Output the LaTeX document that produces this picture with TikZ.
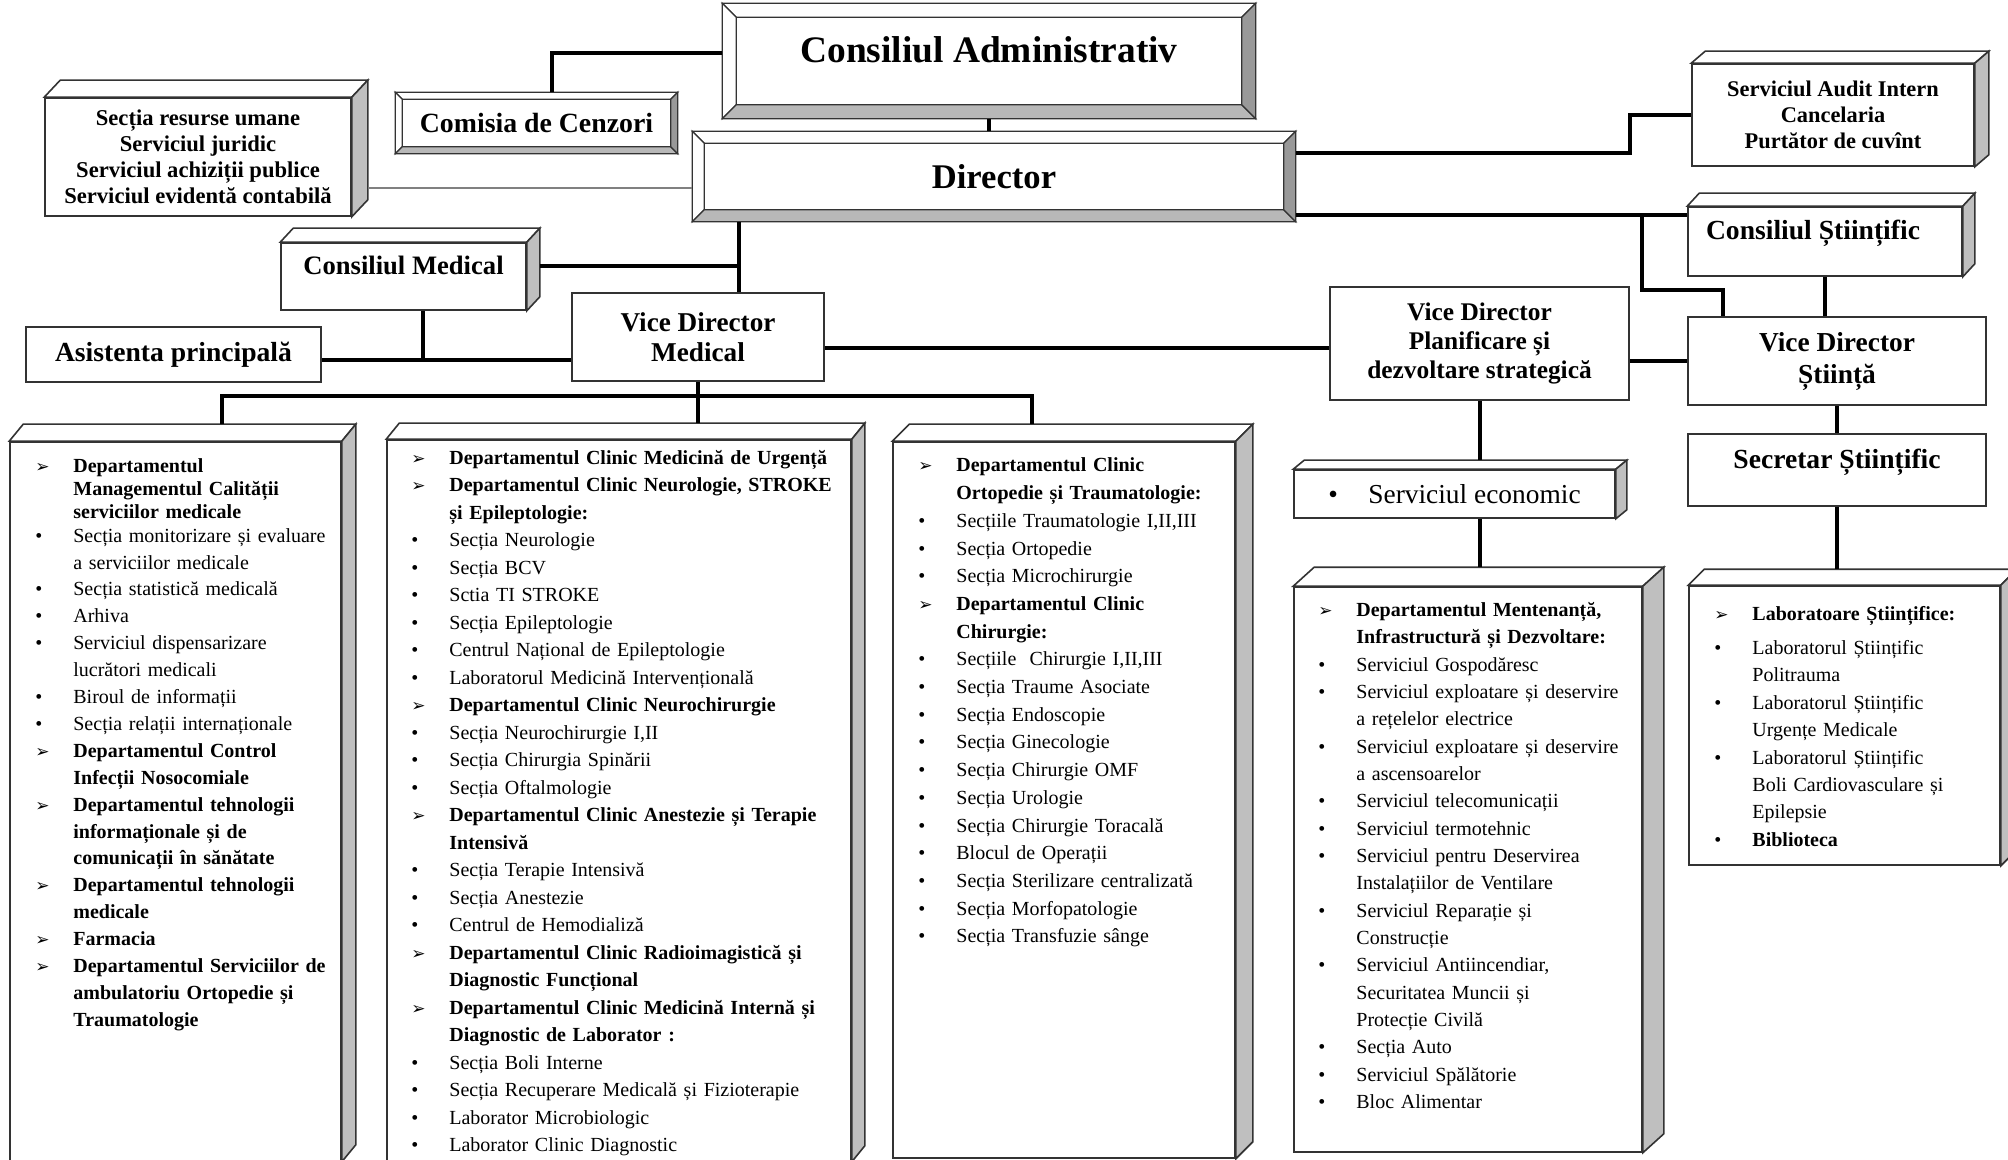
\documentclass[tikz,border=0pt]{standalone}
\usepackage{fontspec}
\setmainfont{Liberation Serif}
\newfontfamily\arrowfont{DejaVu Sans}
\usepackage{tikz}
\colorlet{colorLine}{black}
\colorlet{colorThin}{black!50}
\colorlet{colorFrame}{black!80}
\colorlet{colorBevelLow}{black!28}
\colorlet{colorBevelSide}{black!40}
\colorlet{colorCubeSide}{black!25}
\tikzset{
  box/.style={draw=colorFrame, line width=0.8pt, fill=white, inner sep=0pt, align=center, font=\bfseries},
  span/.style args={#1/#2/#3/#4}{at={({(#1+#3)/2},{(#2+#4)/2})}, minimum width={(#3-#1)*0.5pt}, minimum height={(#4-#2)*0.5pt}},
  bevlite/.style={draw=colorFrame, line width=0.6pt, fill=white},
  bevlow/.style={draw=colorFrame, line width=0.6pt, fill=colorBevelLow},
  bevside/.style={draw=colorFrame, line width=0.6pt, fill=colorBevelSide},
  topface/.style={draw=colorFrame, line width=0.8pt, fill=white},
  sideface/.style={draw=colorFrame, line width=0.8pt, fill=colorCubeSide},
  conn/.style={draw=colorLine, line width=2pt},
  lst/.style={anchor=base west, inner sep=0pt, text width=#1, align=left, font=\fontsize{10}{13.7}\selectfont},
  lst/.default=200pt,
  uptext/.style={text height=10pt, text depth=12pt}
}
% list marks
\newcommand\arw{\makebox[19pt][l]{\arrowfont\fontsize{8.5}{8.5}\selectfont ➢}}
\newcommand\blt{\makebox[19pt][l]{•}}
\newcommand\ind{\hspace*{19pt}}
% framed (bevel) and 3D (cube) box decorations, sizes in px
\newcommand\bevel[2]{%
  \draw[bevlite] (#1.north west) -- (#1.north east) -- ++(-#2,#2) -- ([shift={(#2,#2)}]#1.north west) -- cycle;
  \draw[bevlite] (#1.north west) -- ([shift={(#2,#2)}]#1.north west) -- ([shift={(#2,-#2)}]#1.south west) -- (#1.south west) -- cycle;
  \draw[bevlow] (#1.south west) -- (#1.south east) -- ++(-#2,-#2) -- ([shift={(#2,-#2)}]#1.south west) -- cycle;
  \draw[bevside] (#1.north east) -- (#1.south east) -- ++(-#2,-#2) -- ([shift={(-#2,#2)}]#1.north east) -- cycle;
}
\newcommand\cube[3]{%
  \draw[topface] (#1.north west) -- ++(#2,-#3) -- ([shift={(#2,-#3)}]#1.north east) -- (#1.north east) -- cycle;
  \draw[sideface] (#1.north east) -- ++(#2,-#3) -- ([shift={(#2,-#3)}]#1.south east) -- (#1.south east) -- cycle;
  \coordinate (#1-top) at ([shift={(#2,-#3)}]#1.north);
}

\begin{document}
\begin{tikzpicture}[x=0.5pt, y=-0.5pt]
\useasboundingbox (0,0) rectangle (2008,1160);

% top level
\node[box, span=723/4/1255/118, font=\bfseries\fontsize{18.7}{20}\selectfont, text height=14pt, text depth=12.8pt] (ca) {Consiliul Administrativ};
\bevel{ca}{14}
\node[box, span=693/132/1295/221, font=\bfseries\fontsize{17.3}{20}\selectfont] (dir) {Director};
\bevel{dir}{12}
\node[box, span=396/93/677/153, font=\bfseries\fontsize{13.9}{16}\selectfont] (com) {Comisia de Cenzori};
\bevel{com}{7}
\node[box, span=45/98/351/216, font=\bfseries\fontsize{11.3}{13}\selectfont] (res) {Secția resurse umane\\Serviciul juridic\\Serviciul achiziții publice\\Serviciul evidentă contabilă};
\cube{res}{16}{17}
\node[box, span=1692/64/1974/166, font=\bfseries\fontsize{11.2}{13}\selectfont] (aud) {Serviciul Audit Intern\\Cancelaria\\Purtător de cuvînt};
\cube{aud}{14}{12}
\node[box, span=1688/207/1962/276, font=\bfseries\fontsize{13.8}{16}\selectfont, uptext] (cs) {Consiliul Științific\hspace*{12pt}};
\cube{cs}{12}{13}
\node[box, span=281/243/526/310, font=\bfseries\fontsize{13.3}{16}\selectfont, uptext] (cm) {Consiliul Medical};
\cube{cm}{13}{14}

% vice directors
\node[box, span=26/327/321/382, font=\bfseries\fontsize{13.8}{16}\selectfont] (asis) {Asistenta principală};
\node[box, span=572/293/824/381, font=\bfseries\fontsize{13.6}{15}\selectfont] (vdm) {Vice Director\\Medical};
\node[box, span=1330/287/1629/400, font=\bfseries\fontsize{12.7}{14.3}\selectfont] (vdp) {Vice Director\\Planificare și\\dezvoltare strategică};
\node[box, span=1688/317/1986/405, font=\bfseries\fontsize{13.7}{16}\selectfont] (vds) {Vice Director\\Știință};
\node[box, span=1688/434/1986/506, font=\bfseries\fontsize{13.8}{16}\selectfont, uptext] (sec) {Secretar Științific};
\node[box, span=1294/470/1615/518, font=\fontsize{13.7}{16}\selectfont] (se) {\makebox[20pt][l]{•}Serviciul economic};
\cube{se}{11}{9}

% departments
\node[box, span=10/442/341/1161] (b1) {};
\cube{b1}{14}{17}
\node[box, span=387/440/851/1161] (b2) {};
\cube{b2}{13}{16}
\node[box, span=893/442/1235/1158] (b3) {};
\cube{b3}{17}{17}
\node[box, span=1294/587/1642/1152] (dm) {};
\cube{dm}{21}{19}
\node[box, span=1689/586/2000/865] (lab) {};
\cube{lab}{16}{16}

\node[lst=170pt, font=\fontsize{10}{13.45}\selectfont] (t1) at (35,472.5) {%
\arw\textbf{Departamentul}\\[-2pt]
\ind\textbf{Managementul Calității}\\[-2pt]
\ind\textbf{serviciilor medicale}\\[-1.5pt]
\blt Secția monitorizare și evaluare\\
\ind a serviciilor medicale\\
\blt Secția statistică medicală\\
\blt Arhiva\\
\blt Serviciul dispensarizare\\
\ind lucrători medicali\\
\blt Biroul de informații\\
\blt Secția relații internaționale\\
\arw\textbf{Departamentul Control}\\
\ind\textbf{Infecții Nosocomiale}\\
\arw\textbf{Departamentul tehnologii}\\
\ind\textbf{informaționale și de}\\
\ind\textbf{comunicații în sănătate}\\
\arw\textbf{Departamentul tehnologii}\\
\ind\textbf{medicale}\\
\arw\textbf{Farmacia}\\
\arw\textbf{Departamentul Serviciilor de}\\
\ind\textbf{ambulatoriu Ortopedie și}\\
\ind\textbf{Traumatologie}};

\node[lst=260pt, font=\fontsize{10}{13.74}\selectfont] (t2) at (411,464.5) {%
\arw\textbf{Departamentul Clinic Medicină de Urgență}\\
\arw\textbf{Departamentul Clinic Neurologie, STROKE}\\
\ind\textbf{și Epileptologie:}\\
\blt Secția Neurologie\\
\blt Secția BCV\\
\blt Sctia TI STROKE\\
\blt Secția Epileptologie\\
\blt Centrul Național de Epileptologie\\
\blt Laboratorul Medicină Intervențională\\
\arw\textbf{Departamentul Clinic Neurochirurgie}\\
\blt Secția Neurochirurgie I,II\\
\blt Secția Chirurgia Spinării\\
\blt Secția Oftalmologie\\
\arw\textbf{Departamentul Clinic Anestezie și Terapie}\\
\ind\textbf{Intensivă}\\
\blt Secția Terapie Intensivă\\
\blt Secția Anestezie\\
\blt Centrul de Hemodializă\\
\arw\textbf{Departamentul Clinic Radioimagistică și}\\
\ind\textbf{Diagnostic Funcțional}\\
\arw\textbf{Departamentul Clinic Medicină Internă și}\\
\ind\textbf{Diagnostic de Laborator :}\\
\blt Secția Boli Interne\\
\blt Secția Recuperare Medicală și Fizioterapie\\
\blt Laborator Microbiologic\\
\blt Laborator Clinic Diagnostic};

\node[lst=170pt, font=\fontsize{10}{13.85}\selectfont] (t3) at (918,472) {%
\arw\textbf{Departamentul Clinic}\\
\ind\textbf{Ortopedie și Traumatologie:}\\
\blt Secțiile Traumatologie I,II,III\\
\blt Secția Ortopedie\\
\blt Secția Microchirurgie\\
\arw\textbf{Departamentul Clinic}\\
\ind\textbf{Chirurgie:}\\
\blt Secțiile\ \ Chirurgie I,II,III\\
\blt Secția Traume Asociate\\
\blt Secția Endoscopie\\
\blt Secția Ginecologie\\
\blt Secția Chirurgie OMF\\
\blt Secția Urologie\\
\blt Secția Chirurgie Toracală\\
\blt Blocul de Operații\\
\blt Secția Sterilizare centralizată\\
\blt Secția Morfopatologie\\
\blt Secția Transfuzie sânge};

\node[lst=170pt, font=\fontsize{10}{13.67}\selectfont] (t4) at (1318,616.5) {%
\arw\textbf{Departamentul Mentenanță,}\\
\ind\textbf{Infrastructură și Dezvoltare:}\\
\blt Serviciul Gospodăresc\\
\blt Serviciul exploatare și deservire\\
\ind a rețelelor electrice\\
\blt Serviciul exploatare și deservire\\
\ind a ascensoarelor\\
\blt Serviciul telecomunicații\\
\blt Serviciul termotehnic\\
\blt Serviciul pentru Deservirea\\
\ind Instalațiilor de Ventilare\\
\blt Serviciul Reparație și\\
\ind Construcție\\
\blt Serviciul Antiincendiar,\\
\ind Securitatea Muncii și\\
\ind Protecție Civilă\\
\blt Secția Auto\\
\blt Serviciul Spălătorie\\
\blt Bloc Alimentar};

\node[lst=140pt, font=\fontsize{10}{13.7}\selectfont] (t5) at (1714,620.5) {%
\arw\textbf{Laboratoare Științifice:}\\[3.3pt]
\blt Laboratorul Științific\\
\ind Politrauma\\
\blt Laboratorul Științific\\
\ind Urgențe Medicale\\
\blt Laboratorul Științific\\
\ind Boli Cardiovasculare și\\
\ind Epilepsie\\
\blt\textbf{Biblioteca}};

% connectors
\draw[conn] (ca.south) -- (ca.south |- dir.north);
\coordinate (caw) at ([shift={(0,-8)}]ca.west);
\draw[conn] (caw) -| ([shift={(15,0)}]com.north);
\coordinate (rse) at ([shift={(16,31)}]res.east);
\draw[conn, draw=colorThin, line width=1.2pt] (rse) -- (rse -| dir.west);
\coordinate (jd) at ([shift={(41,0)}]vdm.north);
\draw[conn] (jd) -- (jd |- dir.south);
\coordinate (cme) at ([shift={(13,-10)}]cm.east);
\draw[conn] (cme) -- (cme -| jd);
\coordinate (ja) at ([shift={(19.5,49)}]cm.south);
\draw[conn] (cm.south -| ja) -- (ja);
\draw[conn] (asis.east |- ja) -- (vdm.west |- ja);
\draw[conn] (vdm.south) -- (vdm.south |- b2-top);
\draw[conn] ([shift={(32,0)}]b1-top) -- ++(0,-28) -| ([shift={(-49,0)}]b3-top);
\coordinate (vme) at ([shift={(0,11)}]vdm.east);
\draw[conn] (vme) -- (vme -| vdp.west);
\draw[conn] (vds.west -| vdp.east) -- (vds.west);
\draw[conn] ([shift={(0,-23.5)}]dir.east) -- ++(334,0) |- (aud.west);
\coordinate (dl) at ([shift={(0,38.5)}]dir.east);
\draw[conn] (dl) -- (dl -| cs.west);
\draw[conn] ([shift={(346,0)}]dl) -- ++(0,75) -| ([shift={(-114,0)}]vds.north);
\draw[conn] (cs.south) -- (cs.south |- vds.north);
\draw[conn] (vds.south) -- (vds.south |- sec.north);
\draw[conn] (sec.south) -- (sec.south |- lab-top);
\draw[conn] (vdp.south) -- (vdp.south |- se-top);
\draw[conn] (se.south -| vdp.south) -- (vdp.south |- dm-top);
\end{tikzpicture}
\end{document}
